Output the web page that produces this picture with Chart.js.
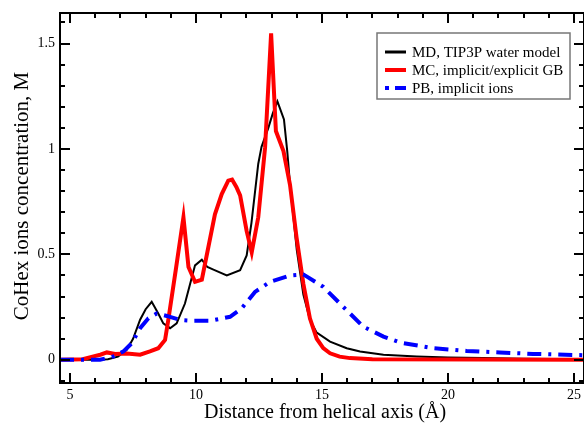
<!DOCTYPE html>
<html>
<head>
<meta charset="utf-8">
<script src="https://cdn.jsdelivr.net/npm/chart.js@4.4.1/dist/chart.umd.min.js"></script>
<style>
    body { margin: 0; background: #fff; }
    canvas { display: block; }
</style>
</head>
<body>
<canvas id="graficoIons" width="584" height="428"></canvas>
<script>
// MD, TIP3P water model
const mdX = [4.6, 5.5, 6.0, 6.5, 6.9, 7.25, 7.5, 7.78, 8.0, 8.24, 8.5, 8.7, 8.97, 9.23, 9.56, 9.96, 10.23, 10.45, 10.69, 11.22, 11.75, 12.01, 12.2, 12.47, 12.6, 12.87, 13.05, 13.23, 13.49, 13.62, 13.73, 14.0, 14.26, 14.52, 14.79, 15.32, 15.98, 16.51, 17.44, 18.76, 20.0, 21.4, 23.0, 25.4];
const mdY = [0, 0, 0, 0.003, 0.015, 0.047, 0.1, 0.19, 0.24, 0.275, 0.22, 0.173, 0.15, 0.173, 0.267, 0.448, 0.475, 0.44, 0.428, 0.40, 0.425, 0.495, 0.65, 0.93, 1.01, 1.10, 1.17, 1.226, 1.14, 0.99, 0.833, 0.52, 0.31, 0.19, 0.129, 0.086, 0.055, 0.039, 0.024, 0.016, 0.011, 0.008, 0.005, 0.003];

// MC, implicit/explicit GB
const mcX = [4.6, 5.5, 5.93, 6.2, 6.46, 6.79, 7.25, 7.78, 8.17, 8.5, 8.77, 8.9, 9.2, 9.5, 9.7, 9.96, 10.23, 10.49, 10.75, 11.02, 11.28, 11.43, 11.6, 11.75, 12.01, 12.21, 12.47, 12.74, 12.98, 13.17, 13.47, 13.73, 13.99, 14.26, 14.52, 14.79, 15.05, 15.32, 15.7, 16.11, 17.0, 25.4];
const mcY = [0, 0.003, 0.016, 0.024, 0.035, 0.028, 0.03, 0.024, 0.04, 0.055, 0.094, 0.19, 0.43, 0.676, 0.44, 0.37, 0.38, 0.535, 0.69, 0.786, 0.85, 0.855, 0.82, 0.78, 0.61, 0.51, 0.676, 1.006, 1.549, 1.085, 0.99, 0.83, 0.58, 0.36, 0.197, 0.10, 0.055, 0.031, 0.015, 0.008, 0.003, 0];

// PB, implicit ions
const pbX = [4.6, 5.5, 6.19, 6.72, 7.12, 7.45, 7.78, 8.11, 8.44, 8.84, 9.37, 9.9, 10.56, 11.35, 11.81, 12.34, 12.94, 13.73, 14.26, 15.05, 15.71, 16.11, 16.64, 17.44, 18.1, 19.42, 20.74, 22.06, 23.38, 25.4];
const pbY = [0, 0, 0, 0.016, 0.04, 0.079, 0.15, 0.197, 0.22, 0.208, 0.189, 0.185, 0.185, 0.204, 0.244, 0.322, 0.37, 0.40, 0.405, 0.346, 0.267, 0.22, 0.157, 0.11, 0.082, 0.055, 0.042, 0.035, 0.028, 0.022];

const seriesLabels = ['MD, TIP3P water model', 'MC, implicit/explicit GB', 'PB, implicit ions'];
const xTitle = 'Distance from helical axis (Å)';
const yTitle = 'CoHex ions concentration, M';

const serif = '"Liberation Serif", "Times New Roman", serif';

function toPoints(xs, ys) {
    return xs.map((x, i) => ({ x: x, y: ys[i] }));
}

function isMajor(v, step) {
    return Math.abs(v / step - Math.round(v / step)) < 1e-6;
}

// moldura com ticks para dentro, titulos e legenda
const framePlugin = {
    id: 'framePlugin',
    afterDatasetsDraw(chart) {
        const ctx = chart.ctx;
        const a = chart.chartArea;
        const xs = chart.scales.x;
        const ys = chart.scales.y;
        ctx.save();
        ctx.strokeStyle = '#000';
        ctx.lineWidth = 2;
        ctx.strokeRect(a.left, a.top, a.right - a.left, a.bottom - a.top);

        ctx.beginPath();
        xs.ticks.forEach(t => {
            const px = Math.round(xs.getPixelForValue(t.value));
            const len = isMajor(t.value, 5) ? 10 : 5;
            ctx.moveTo(px, a.bottom); ctx.lineTo(px, a.bottom - len);
            ctx.moveTo(px, a.top); ctx.lineTo(px, a.top + len);
        });
        ys.ticks.forEach(t => {
            const py = Math.round(ys.getPixelForValue(t.value));
            const len = isMajor(t.value, 0.5) ? 10 : 5;
            ctx.moveTo(a.left, py); ctx.lineTo(a.left + len, py);
            ctx.moveTo(a.right, py); ctx.lineTo(a.right - len, py);
        });
        ctx.stroke();
        ctx.restore();
    },
    afterDraw(chart) {
        const ctx = chart.ctx;
        ctx.save();
        ctx.fillStyle = '#000';
        ctx.textAlign = 'center';
        ctx.textBaseline = 'middle';
        ctx.font = '20px ' + serif;
        ctx.fillText(xTitle, 325, 413);

        ctx.translate(22, 196);
        ctx.rotate(-Math.PI / 2);
        ctx.font = '21px ' + serif;
        ctx.fillText(yTitle, 0, 0);
        ctx.restore();

        // legenda
        ctx.save();
        ctx.fillStyle = '#fff';
        ctx.fillRect(377, 33, 193, 66);
        ctx.strokeStyle = '#777';
        ctx.lineWidth = 1.5;
        ctx.strokeRect(377, 33, 193, 66);

        const rows = [52, 70, 88];
        chart.data.datasets.forEach((ds, i) => {
            ctx.beginPath();
            ctx.strokeStyle = ds.borderColor;
            ctx.lineWidth = i === 0 ? 3 : 4;
            ctx.setLineDash(i === 2 ? [4, 6, 12, 7] : []);
            ctx.moveTo(385, rows[i]);
            ctx.lineTo(406, rows[i]);
            ctx.stroke();
            ctx.setLineDash([]);
            ctx.fillStyle = '#000';
            ctx.font = '15px ' + serif;
            ctx.textAlign = 'left';
            ctx.textBaseline = 'middle';
            ctx.fillText(ds.label, 412, rows[i] + 1);
        });
        ctx.restore();
    }
};

const ctx1 = document.getElementById('graficoIons').getContext('2d');
const chart1 = new Chart(ctx1, {
    type: 'scatter',
    data: {
        datasets: [
            {
                label: seriesLabels[0],
                data: toPoints(mdX, mdY),
                showLine: true,
                borderColor: '#000000',
                borderWidth: 2,
                pointRadius: 0,
                tension: 0,
                order: 3
            },
            {
                label: seriesLabels[1],
                data: toPoints(mcX, mcY),
                showLine: true,
                borderColor: '#ff0000',
                borderWidth: 4,
                pointRadius: 0,
                tension: 0,
                order: 2
            },
            {
                label: seriesLabels[2],
                data: toPoints(pbX, pbY),
                showLine: true,
                borderColor: '#0000ff',
                borderWidth: 4,
                borderDash: [14, 7, 3, 7],
                borderCapStyle: 'butt',
                pointRadius: 0,
                tension: 0,
                order: 1
            }
        ]
    },
    options: {
        responsive: false,
        animation: false,
        devicePixelRatio: 1,
        layout: { padding: { top: 13, right: 0, left: 0, bottom: 0 }, autoPadding: false },
        plugins: {
            legend: { display: false },
            tooltip: { enabled: false }
        },
        scales: {
            x: {
                type: 'linear',
                min: 4.6,
                max: 25.4,
                grid: { display: false, drawTicks: false, tickLength: 0 },
                border: { display: false },
                ticks: {
                    stepSize: 1,
                    autoSkip: false,
                    includeBounds: false,
                    maxRotation: 0,
                    padding: 4,
                    color: '#000',
                    font: { family: serif, size: 14 },
                    callback: v => isMajor(v, 5) ? String(Math.round(v)) : ''
                },
                afterFit(s) {
                    s.height = 45;
                    s.paddingLeft = 0;
                    s.paddingRight = 0;
                }
            },
            y: {
                min: -0.11,
                max: 1.645,
                grid: { display: false, drawTicks: false, tickLength: 0 },
                border: { display: false },
                ticks: {
                    stepSize: 0.1,
                    autoSkip: false,
                    includeBounds: false,
                    padding: 5,
                    color: '#000',
                    font: { family: serif, size: 14 },
                    callback: v => isMajor(v, 0.5) ? String(+v.toFixed(1)) : ''
                },
                afterFit(s) {
                    s.width = 60;
                    s.paddingTop = 0;
                    s.paddingBottom = 0;
                }
            }
        }
    },
    plugins: [framePlugin]
});
</script>
</body>
</html>
